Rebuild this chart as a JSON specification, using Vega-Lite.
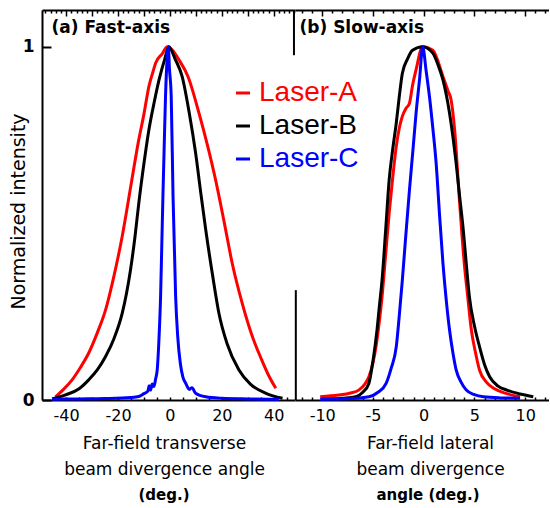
{
  "$schema": "https://vega.github.io/schema/vega-lite/v6.json",
  "background": "white",
  "padding": {"left": 9, "top": 9, "right": 0, "bottom": 0},
  "bounds": "flush",
  "spacing": 0,
  "config": {
    "view": {"stroke": null},
    "font": "DejaVu Sans",
    "axis": {"grid": false, "domainColor": "black", "domainWidth": 2, "tickColor": "black", "tickWidth": 1.5, "labelColor": "black", "titleColor": "black", "labelFont": "DejaVu Sans", "titleFont": "DejaVu Sans", "labelFlush": false, "labelOverlap": false, "titleFontWeight": "normal"},
    "title": {"font": "DejaVu Sans", "color": "black"}
  },
  "datasets": {
    "fast": [
      {"laser": "Laser-A", "angle": -44.1, "intensity": 0.009},
      {"laser": "Laser-A", "angle": -41, "intensity": 0.03},
      {"laser": "Laser-A", "angle": -37.7, "intensity": 0.057},
      {"laser": "Laser-A", "angle": -34.5, "intensity": 0.092},
      {"laser": "Laser-A", "angle": -31.3, "intensity": 0.133},
      {"laser": "Laser-A", "angle": -28, "intensity": 0.19},
      {"laser": "Laser-A", "angle": -24.8, "intensity": 0.255},
      {"laser": "Laser-A", "angle": -21.6, "intensity": 0.35},
      {"laser": "Laser-A", "angle": -18.4, "intensity": 0.463},
      {"laser": "Laser-A", "angle": -15.2, "intensity": 0.6},
      {"laser": "Laser-A", "angle": -12, "intensity": 0.737},
      {"laser": "Laser-A", "angle": -10, "intensity": 0.81},
      {"laser": "Laser-A", "angle": -8.1, "intensity": 0.888},
      {"laser": "Laser-A", "angle": -6.5, "intensity": 0.93},
      {"laser": "Laser-A", "angle": -5.5, "intensity": 0.954},
      {"laser": "Laser-A", "angle": -3, "intensity": 0.98},
      {"laser": "Laser-A", "angle": -1, "intensity": 1.0},
      {"laser": "Laser-A", "angle": 1, "intensity": 0.99},
      {"laser": "Laser-A", "angle": 3.5, "intensity": 0.963},
      {"laser": "Laser-A", "angle": 7, "intensity": 0.915},
      {"laser": "Laser-A", "angle": 11.2, "intensity": 0.812},
      {"laser": "Laser-A", "angle": 14.5, "intensity": 0.72},
      {"laser": "Laser-A", "angle": 17.6, "intensity": 0.623},
      {"laser": "Laser-A", "angle": 21, "intensity": 0.5},
      {"laser": "Laser-A", "angle": 24, "intensity": 0.387},
      {"laser": "Laser-A", "angle": 28, "intensity": 0.27},
      {"laser": "Laser-A", "angle": 31.8, "intensity": 0.179},
      {"laser": "Laser-A", "angle": 35, "intensity": 0.12},
      {"laser": "Laser-A", "angle": 38, "intensity": 0.07},
      {"laser": "Laser-A", "angle": 40.8, "intensity": 0.033},
      {"laser": "Laser-B", "angle": -45.4, "intensity": 0.003},
      {"laser": "Laser-B", "angle": -40, "intensity": 0.015},
      {"laser": "Laser-B", "angle": -35, "intensity": 0.032},
      {"laser": "Laser-B", "angle": -31.3, "intensity": 0.057},
      {"laser": "Laser-B", "angle": -28, "intensity": 0.085},
      {"laser": "Laser-B", "angle": -24.8, "intensity": 0.123},
      {"laser": "Laser-B", "angle": -21.5, "intensity": 0.175},
      {"laser": "Laser-B", "angle": -18.4, "intensity": 0.245},
      {"laser": "Laser-B", "angle": -15.2, "intensity": 0.368},
      {"laser": "Laser-B", "angle": -13.5, "intensity": 0.46},
      {"laser": "Laser-B", "angle": -12, "intensity": 0.557},
      {"laser": "Laser-B", "angle": -10, "intensity": 0.67},
      {"laser": "Laser-B", "angle": -8.1, "intensity": 0.765},
      {"laser": "Laser-B", "angle": -6, "intensity": 0.845},
      {"laser": "Laser-B", "angle": -4.2, "intensity": 0.906},
      {"laser": "Laser-B", "angle": -2, "intensity": 0.965},
      {"laser": "Laser-B", "angle": -0.4, "intensity": 1.0},
      {"laser": "Laser-B", "angle": 2, "intensity": 0.965},
      {"laser": "Laser-B", "angle": 4.7, "intensity": 0.916},
      {"laser": "Laser-B", "angle": 7.5, "intensity": 0.81},
      {"laser": "Laser-B", "angle": 9.9, "intensity": 0.699},
      {"laser": "Laser-B", "angle": 12, "intensity": 0.58},
      {"laser": "Laser-B", "angle": 13.8, "intensity": 0.482},
      {"laser": "Laser-B", "angle": 16.5, "intensity": 0.35},
      {"laser": "Laser-B", "angle": 18.9, "intensity": 0.245},
      {"laser": "Laser-B", "angle": 22, "intensity": 0.16},
      {"laser": "Laser-B", "angle": 26.6, "intensity": 0.085},
      {"laser": "Laser-B", "angle": 31, "intensity": 0.045},
      {"laser": "Laser-B", "angle": 37, "intensity": 0.019},
      {"laser": "Laser-B", "angle": 43.4, "intensity": 0.005},
      {"laser": "Laser-C", "angle": -45.4, "intensity": 0.002},
      {"laser": "Laser-C", "angle": -35, "intensity": 0.003},
      {"laser": "Laser-C", "angle": -25, "intensity": 0.004},
      {"laser": "Laser-C", "angle": -15, "intensity": 0.007},
      {"laser": "Laser-C", "angle": -12, "intensity": 0.01},
      {"laser": "Laser-C", "angle": -10, "intensity": 0.018},
      {"laser": "Laser-C", "angle": -8.5, "intensity": 0.025},
      {"laser": "Laser-C", "angle": -8, "intensity": 0.04},
      {"laser": "Laser-C", "angle": -7.5, "intensity": 0.028},
      {"laser": "Laser-C", "angle": -6.8, "intensity": 0.045},
      {"laser": "Laser-C", "angle": -6.2, "intensity": 0.038},
      {"laser": "Laser-C", "angle": -5.5, "intensity": 0.06},
      {"laser": "Laser-C", "angle": -4.9, "intensity": 0.085},
      {"laser": "Laser-C", "angle": -4.3, "intensity": 0.16},
      {"laser": "Laser-C", "angle": -3.6, "intensity": 0.293},
      {"laser": "Laser-C", "angle": -3.1, "intensity": 0.45},
      {"laser": "Laser-C", "angle": -2.7, "intensity": 0.576},
      {"laser": "Laser-C", "angle": -2.2, "intensity": 0.72},
      {"laser": "Laser-C", "angle": -1.7, "intensity": 0.859},
      {"laser": "Laser-C", "angle": -1.2, "intensity": 0.95},
      {"laser": "Laser-C", "angle": -0.6, "intensity": 1.0},
      {"laser": "Laser-C", "angle": -0.2, "intensity": 0.94},
      {"laser": "Laser-C", "angle": 0.5, "intensity": 0.859},
      {"laser": "Laser-C", "angle": 1.2, "intensity": 0.576},
      {"laser": "Laser-C", "angle": 2.2, "intensity": 0.293},
      {"laser": "Laser-C", "angle": 3.0, "intensity": 0.18},
      {"laser": "Laser-C", "angle": 4.0, "intensity": 0.104},
      {"laser": "Laser-C", "angle": 5.0, "intensity": 0.065},
      {"laser": "Laser-C", "angle": 6.1, "intensity": 0.047},
      {"laser": "Laser-C", "angle": 7.5, "intensity": 0.03},
      {"laser": "Laser-C", "angle": 8.5, "intensity": 0.035},
      {"laser": "Laser-C", "angle": 9.9, "intensity": 0.019},
      {"laser": "Laser-C", "angle": 13.8, "intensity": 0.009},
      {"laser": "Laser-C", "angle": 20, "intensity": 0.005},
      {"laser": "Laser-C", "angle": 30, "intensity": 0.003},
      {"laser": "Laser-C", "angle": 42, "intensity": 0.002}
    ],
    "slow": [
      {"laser": "Laser-A", "angle": -10.2, "intensity": 0.009},
      {"laser": "Laser-A", "angle": -8.4, "intensity": 0.014},
      {"laser": "Laser-A", "angle": -7.2, "intensity": 0.02},
      {"laser": "Laser-A", "angle": -6.4, "intensity": 0.028},
      {"laser": "Laser-A", "angle": -5.8, "intensity": 0.045},
      {"laser": "Laser-A", "angle": -5.4, "intensity": 0.066},
      {"laser": "Laser-A", "angle": -5.0, "intensity": 0.105},
      {"laser": "Laser-A", "angle": -4.7, "intensity": 0.151},
      {"laser": "Laser-A", "angle": -4.4, "intensity": 0.215},
      {"laser": "Laser-A", "angle": -4.1, "intensity": 0.293},
      {"laser": "Laser-A", "angle": -3.75, "intensity": 0.41},
      {"laser": "Laser-A", "angle": -3.4, "intensity": 0.529},
      {"laser": "Laser-A", "angle": -3.05, "intensity": 0.63},
      {"laser": "Laser-A", "angle": -2.7, "intensity": 0.718},
      {"laser": "Laser-A", "angle": -2.4, "intensity": 0.77},
      {"laser": "Laser-A", "angle": -2.1, "intensity": 0.803},
      {"laser": "Laser-A", "angle": -1.75, "intensity": 0.825},
      {"laser": "Laser-A", "angle": -1.4, "intensity": 0.84},
      {"laser": "Laser-A", "angle": -1.1, "intensity": 0.89},
      {"laser": "Laser-A", "angle": -0.75, "intensity": 0.935},
      {"laser": "Laser-A", "angle": -0.1, "intensity": 1.0},
      {"laser": "Laser-A", "angle": 0.9, "intensity": 0.99},
      {"laser": "Laser-A", "angle": 1.9, "intensity": 0.916},
      {"laser": "Laser-A", "angle": 2.4, "intensity": 0.875},
      {"laser": "Laser-A", "angle": 2.7, "intensity": 0.85},
      {"laser": "Laser-A", "angle": 3.05, "intensity": 0.765},
      {"laser": "Laser-A", "angle": 3.5, "intensity": 0.576},
      {"laser": "Laser-A", "angle": 4.0, "intensity": 0.387},
      {"laser": "Laser-A", "angle": 4.35, "intensity": 0.29},
      {"laser": "Laser-A", "angle": 4.7, "intensity": 0.198},
      {"laser": "Laser-A", "angle": 5.1, "intensity": 0.135},
      {"laser": "Laser-A", "angle": 5.5, "intensity": 0.085},
      {"laser": "Laser-A", "angle": 6.2, "intensity": 0.05},
      {"laser": "Laser-A", "angle": 6.9, "intensity": 0.033},
      {"laser": "Laser-A", "angle": 8.2, "intensity": 0.018},
      {"laser": "Laser-A", "angle": 9.5, "intensity": 0.009},
      {"laser": "Laser-B", "angle": -10.0, "intensity": 0.002},
      {"laser": "Laser-B", "angle": -8.0, "intensity": 0.005},
      {"laser": "Laser-B", "angle": -6.7, "intensity": 0.009},
      {"laser": "Laser-B", "angle": -6.0, "intensity": 0.022},
      {"laser": "Laser-B", "angle": -5.4, "intensity": 0.047},
      {"laser": "Laser-B", "angle": -5.0, "intensity": 0.11},
      {"laser": "Laser-B", "angle": -4.6, "intensity": 0.198},
      {"laser": "Laser-B", "angle": -4.35, "intensity": 0.27},
      {"laser": "Laser-B", "angle": -4.1, "intensity": 0.34},
      {"laser": "Laser-B", "angle": -3.75, "intensity": 0.48},
      {"laser": "Laser-B", "angle": -3.4, "intensity": 0.623},
      {"laser": "Laser-B", "angle": -3.05, "intensity": 0.71},
      {"laser": "Laser-B", "angle": -2.7, "intensity": 0.784},
      {"laser": "Laser-B", "angle": -2.4, "intensity": 0.86},
      {"laser": "Laser-B", "angle": -2.1, "intensity": 0.925},
      {"laser": "Laser-B", "angle": -1.6, "intensity": 0.965},
      {"laser": "Laser-B", "angle": -1.1, "intensity": 0.99},
      {"laser": "Laser-B", "angle": -0.1, "intensity": 1.0},
      {"laser": "Laser-B", "angle": 0.9, "intensity": 0.982},
      {"laser": "Laser-B", "angle": 1.4, "intensity": 0.95},
      {"laser": "Laser-B", "angle": 1.9, "intensity": 0.906},
      {"laser": "Laser-B", "angle": 2.55, "intensity": 0.812},
      {"laser": "Laser-B", "angle": 3.2, "intensity": 0.67},
      {"laser": "Laser-B", "angle": 3.55, "intensity": 0.575},
      {"laser": "Laser-B", "angle": 3.9, "intensity": 0.482},
      {"laser": "Laser-B", "angle": 4.2, "intensity": 0.385},
      {"laser": "Laser-B", "angle": 4.5, "intensity": 0.293},
      {"laser": "Laser-B", "angle": 5.0, "intensity": 0.21},
      {"laser": "Laser-B", "angle": 5.5, "intensity": 0.151},
      {"laser": "Laser-B", "angle": 6.0, "intensity": 0.1},
      {"laser": "Laser-B", "angle": 6.5, "intensity": 0.066},
      {"laser": "Laser-B", "angle": 7.3, "intensity": 0.04},
      {"laser": "Laser-B", "angle": 8.2, "intensity": 0.028},
      {"laser": "Laser-B", "angle": 9.5, "intensity": 0.017},
      {"laser": "Laser-B", "angle": 10.3, "intensity": 0.012},
      {"laser": "Laser-B", "angle": 10.8, "intensity": 0.009},
      {"laser": "Laser-C", "angle": -10.2, "intensity": 0.002},
      {"laser": "Laser-C", "angle": -7.0, "intensity": 0.004},
      {"laser": "Laser-C", "angle": -5.4, "intensity": 0.009},
      {"laser": "Laser-C", "angle": -4.5, "intensity": 0.022},
      {"laser": "Laser-C", "angle": -3.7, "intensity": 0.047},
      {"laser": "Laser-C", "angle": -3.2, "intensity": 0.09},
      {"laser": "Laser-C", "angle": -2.7, "intensity": 0.151},
      {"laser": "Laser-C", "angle": -2.4, "intensity": 0.24},
      {"laser": "Laser-C", "angle": -2.1, "intensity": 0.34},
      {"laser": "Laser-C", "angle": -1.75, "intensity": 0.47},
      {"laser": "Laser-C", "angle": -1.4, "intensity": 0.595},
      {"laser": "Laser-C", "angle": -1.05, "intensity": 0.71},
      {"laser": "Laser-C", "angle": -0.75, "intensity": 0.812},
      {"laser": "Laser-C", "angle": -0.4, "intensity": 0.91},
      {"laser": "Laser-C", "angle": -0.1, "intensity": 1.0},
      {"laser": "Laser-C", "angle": 0.25, "intensity": 0.93},
      {"laser": "Laser-C", "angle": 0.57, "intensity": 0.859},
      {"laser": "Laser-C", "angle": 0.9, "intensity": 0.77},
      {"laser": "Laser-C", "angle": 1.23, "intensity": 0.67},
      {"laser": "Laser-C", "angle": 1.55, "intensity": 0.53},
      {"laser": "Laser-C", "angle": 1.9, "intensity": 0.387},
      {"laser": "Laser-C", "angle": 2.2, "intensity": 0.29},
      {"laser": "Laser-C", "angle": 2.55, "intensity": 0.198},
      {"laser": "Laser-C", "angle": 2.9, "intensity": 0.13},
      {"laser": "Laser-C", "angle": 3.2, "intensity": 0.085},
      {"laser": "Laser-C", "angle": 3.7, "intensity": 0.05},
      {"laser": "Laser-C", "angle": 4.2, "intensity": 0.028},
      {"laser": "Laser-C", "angle": 5.0, "intensity": 0.015},
      {"laser": "Laser-C", "angle": 5.9, "intensity": 0.009},
      {"laser": "Laser-C", "angle": 7.5, "intensity": 0.006},
      {"laser": "Laser-C", "angle": 9.5, "intensity": 0.005}
    ]
  },
  "hconcat": [
    {
      "width": 253,
      "height": 390,
      "title": {"text": "(deg.)", "orient": "bottom", "fontSize": 15, "fontWeight": "bold", "dx": -4.5, "offset": 11},
      "layer": [
        {
          "data": {"name": "fast"},
          "mark": {"type": "line", "strokeWidth": 3, "interpolate": "monotone"},
          "encoding": {
            "x": {"field": "angle", "type": "quantitative",
              "scale": {"domain": [-49.3, 48.2], "nice": false, "zero": false},
              "axis": {"orient": "bottom", "values": [-45, -40, -35, -30, -25, -20, -15, -10, -5, 0, 5, 10, 15, 20, 25, 30, 35, 40, 45],
                "labelExpr": "datum.value % 20 === 0 ? '' + datum.value : ''",
                "tickSize": -3, "labelFontSize": 16, "labelPadding": 10,
                "title": ["Far-field transverse", "beam divergence angle"], "titleFontSize": 17, "titleLineHeight": 26, "titlePadding": 12, "titleX": 122}},
            "y": {"field": "intensity", "type": "quantitative",
              "scale": {"domain": [0, 1.104], "nice": false},
              "axis": {"orient": "left", "values": [0, 1], "labelExpr": "'' + datum.value", "tickSize": -9, "tickWidth": 2, "labelFontSize": 17, "labelFontWeight": "bold", "labelPadding": 17,
                "title": "Normalized intensity", "titleFontSize": 19, "titleX": -14, "titleY": 201}},
            "color": {"field": "laser", "type": "nominal",
              "scale": {"domain": ["Laser-A", "Laser-B", "Laser-C"], "range": ["#ff0000", "#000000", "#0000ff"]},
              "legend": {"orient": "none", "legendX": 187, "legendY": 69, "title": null, "padding": 0,
                "symbolType": "stroke", "symbolStrokeWidth": 3, "symbolSize": 196,
                "labelFont": "Liberation Sans", "labelFontSize": 28, "labelOffset": 2, "labelLimit": 0, "rowPadding": 5,
                "encode": {"labels": {"update": {"fill": {"scale": "color", "field": "value"}}}}}}
          }
        },
        {
          "data": {"values": [{"top": 1.104, "bottom": 0.976}]},
          "mark": {"type": "rule", "strokeWidth": 2, "color": "black"},
          "encoding": {
            "x": {"datum": 47.8, "type": "quantitative",
              "axis": {"orient": "top", "values": [-48, -46, -44, -42, -40, -38, -36, -34, -32, -30, -28, -26, -24, -22, -20, -18, -16, -14, -12, -10, -8, -6, -4, -2, 0, 2, 4, 6, 8, 10, 12, 14, 16, 18, 20, 22, 24, 26, 28, 30, 32, 34, 36, 38, 40, 42, 44, 46, 48],
                "labels": false, "tickSize": {"condition": {"test": "datum.value % 10 === 0", "value": -6}, "value": -3},
                "title": "(a) Fast-axis", "titleX": 9, "titleY": 17, "titleAlign": "left", "titleBaseline": "middle", "titleAngle": 0, "titleFontSize": 17, "titleFontWeight": "bold"}},
            "y": {"field": "top", "type": "quantitative", "axis": null},
            "y2": {"field": "bottom"}
          }
        }
      ],
      "resolve": {"axis": {"x": "independent", "y": "independent"}}
    },
    {
      "width": 254,
      "height": 390,
      "title": {"text": "angle (deg.)", "orient": "bottom", "fontSize": 15, "fontWeight": "bold", "dx": 6, "offset": 11},
      "layer": [
        {
          "data": {"name": "slow"},
          "mark": {"type": "line", "strokeWidth": 3, "interpolate": "monotone"},
          "encoding": {
            "x": {"field": "angle", "type": "quantitative",
              "scale": {"domain": [-12.68, 12.35], "nice": false, "zero": false},
              "axis": {"orient": "bottom", "values": [-12, -11, -10, -9, -8, -7, -6, -5, -4, -3, -2, -1, 0, 1, 2, 3, 4, 5, 6, 7, 8, 9, 10, 11, 12],
                "labelExpr": "datum.value % 5 === 0 ? '' + datum.value : ''",
                "tickSize": -3, "labelFontSize": 16, "labelPadding": 10,
                "title": ["Far-field lateral", "beam divergence"], "titleFontSize": 17, "titleLineHeight": 26, "titlePadding": 12, "titleX": 135}},
            "y": {"field": "intensity", "type": "quantitative",
              "scale": {"domain": [0, 1.104], "nice": false}, "axis": null},
            "color": {"field": "laser", "type": "nominal"}
          }
        },
        {
          "data": {"values": [{"top": 0.311, "bottom": 0}]},
          "mark": {"type": "rule", "strokeWidth": 2, "color": "black"},
          "encoding": {
            "x": {"datum": -12.6, "type": "quantitative",
              "axis": {"orient": "top", "values": [-12, -11, -10, -9, -8, -7, -6, -5, -4, -3, -2, -1, 0, 1, 2, 3, 4, 5, 6, 7, 8, 9, 10, 11, 12],
                "labels": false, "tickSize": {"condition": {"test": "datum.value % 5 === 0", "value": -6}, "value": -3},
                "title": "(b) Slow-axis", "titleX": 4, "titleY": 17, "titleAlign": "left", "titleBaseline": "middle", "titleAngle": 0, "titleFontSize": 17, "titleFontWeight": "bold"}},
            "y": {"field": "top", "type": "quantitative", "axis": null},
            "y2": {"field": "bottom"}
          }
        }
      ],
      "resolve": {"axis": {"x": "independent", "y": "independent"}}
    }
  ]
}
